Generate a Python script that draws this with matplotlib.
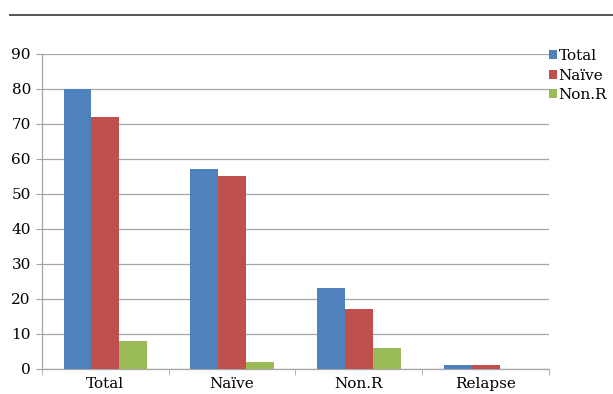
import matplotlib.pyplot as plt
import numpy as np
from matplotlib.lines import Line2D

categories = ["Total", "Naïve", "Non.R", "Relapse"]
series_names = ["Total", "Naïve", "Non.R"]
total_vals = [80, 57, 23, 1]
naive_vals = [72, 55, 17, 1]
nonr_vals = [8, 2, 6, 0]
colors = ["#4F81BD", "#C0504D", "#9BBB59"]

plt.rcParams['font.family'] = ['DejaVu Serif']

fig = plt.figure(figsize=(6.13, 3.94), dpi=100)
ax = fig.add_axes([0.0685, 0.0635, 0.827, 0.7995])

x = np.arange(len(categories))
w = 0.22
for i, (vals, name) in enumerate(zip([total_vals, naive_vals, nonr_vals], series_names)):
    ax.bar(x + (i - 1) * w, vals, width=w, color=colors[i], label=name, zorder=3)

ax.set_xlim(-0.5, len(categories) - 0.5)
ax.set_ylim(0, 90)
ax.set_yticks(range(0, 91, 10))
ax.grid(axis="y", color="#A6A6A6", linewidth=0.9, zorder=0)

ax.set_xticks(x)
ax.set_xticklabels(categories)
ax.set_xticks(np.arange(-0.5, len(categories), 1.0), minor=True)
ax.tick_params(axis="x", which="major", length=0, labelsize=11, pad=6)
ax.tick_params(axis="x", which="minor", length=4, color="#A6A6A6", direction="out")
ax.tick_params(axis="y", length=4, color="#A6A6A6", labelsize=11, pad=4)

for side in ["top", "right"]:
    ax.spines[side].set_visible(False)
for side in ["left", "bottom"]:
    ax.spines[side].set_color("#A6A6A6")
    ax.spines[side].set_linewidth(0.9)

leg = fig.legend(loc="upper left", bbox_to_anchor=(0.895, 0.875), frameon=False,
                 fontsize=11, handlelength=0.55, handleheight=0.55,
                 handletextpad=0.1, labelspacing=0.35, borderpad=0, borderaxespad=0)

# rule across the top
fig.add_artist(Line2D([10 / 613, 1.0], [1 - 15 / 394, 1 - 15 / 394],
                      color="#555555", linewidth=1.4))

fig.savefig("out.png", dpi=100)
